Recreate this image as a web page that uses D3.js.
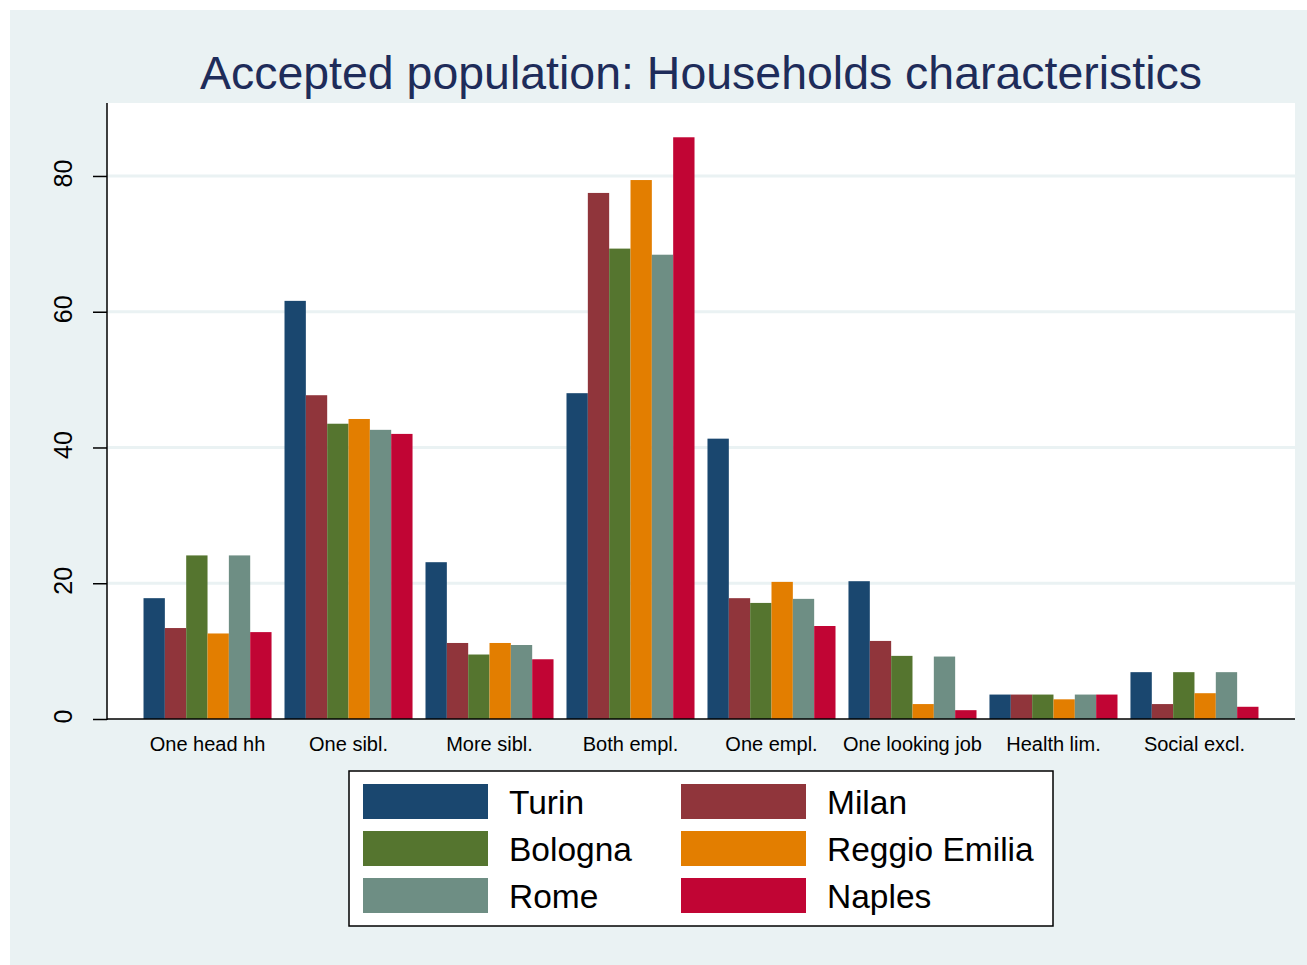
<!DOCTYPE html>
<html>
<head>
<meta charset="utf-8">
<script src="https://cdn.jsdelivr.net/npm/d3@7"></script>
<style>
  html, body { margin: 0; padding: 0; background: #ffffff; }
  svg { display: block; }
  text { font-family: "Liberation Sans", Arial, sans-serif; }
</style>
</head>
<body>
<svg id="chart" width="1307" height="965"></svg>
<script>
const categories = ["One head hh", "One sibl.", "More sibl.", "Both empl.", "One empl.", "One looking job", "Health lim.", "Social excl."];
const seriesNames = ["Turin", "Milan", "Bologna", "Reggio Emilia", "Rome", "Naples"];
const seriesColors = ["#1a476f", "#90353b", "#55752f", "#e37e00", "#6e8e84", "#c10534"];
const turin        = [17.8, 61.6, 23.1, 48.0, 41.3, 20.3, 3.6, 6.9];
const milan        = [13.4, 47.7, 11.2, 77.5, 17.8, 11.5, 3.6, 2.2];
const bologna      = [24.1, 43.5,  9.5, 69.3, 17.1,  9.3, 3.6, 6.9];
const reggioEmilia = [12.6, 44.2, 11.2, 79.4, 20.2,  2.2, 2.9, 3.8];
const rome         = [24.1, 42.6, 10.9, 68.4, 17.7,  9.2, 3.6, 6.9];
const naples       = [12.8, 42.0,  8.8, 85.7, 13.7,  1.3, 3.6, 1.8];
const yTicks = [0, 20, 40, 60, 80];
const titleText = "Accepted population: Households characteristics";

const seriesValues = [turin, milan, bologna, reggioEmilia, rome, naples];

const svg = d3.select("#chart");
const W = 1307, H = 965;
const plot = { left: 107, right: 1295, top: 103, bottom: 719 };
const bg = "#eaf2f3";

// outer background
svg.append("rect").attr("x", 10).attr("y", 10).attr("width", W - 10).attr("height", H - 10).attr("fill", bg);
// plot region
svg.append("rect").attr("x", plot.left).attr("y", plot.top)
  .attr("width", plot.right - plot.left).attr("height", plot.bottom - plot.top).attr("fill", "#ffffff");

const y = d3.scaleLinear().domain([0, 90.75]).range([plot.bottom, plot.top]);
const x0 = d3.scaleBand().domain(categories).range([plot.left, plot.right])
  .paddingInner(0.092).paddingOuter(0.259);
const x1 = d3.scaleBand().domain(seriesNames).range([0, x0.bandwidth()]).padding(0);

// gridlines
svg.append("g").selectAll("line").data(yTicks.filter(d => d > 0)).join("line")
  .attr("x1", plot.left).attr("x2", plot.right)
  .attr("y1", d => y(d)).attr("y2", d => y(d))
  .attr("stroke", bg).attr("stroke-width", 3);

// bars
const rows = [];
categories.forEach((c, i) => seriesNames.forEach((s, j) => rows.push({ c, s, v: seriesValues[j][i], color: seriesColors[j] })));
svg.append("g").selectAll("rect").data(rows).join("rect")
  .attr("x", d => x0(d.c) + x1(d.s))
  .attr("width", x1.bandwidth())
  .attr("y", d => y(d.v))
  .attr("height", d => y(0) - y(d.v))
  .attr("fill", d => d.color);

// y axis
const yAxis = svg.append("g").attr("transform", `translate(${plot.left},0)`)
  .call(d3.axisLeft(y).tickValues(yTicks).tickSize(14).tickSizeOuter(0).tickFormat(d3.format("d")));
yAxis.select(".domain").remove();
yAxis.selectAll(".tick line").attr("stroke", "#000").attr("stroke-width", 1.5);
yAxis.selectAll(".tick text")
  .attr("font-size", 25).attr("fill", "#000")
  .attr("font-family", "Liberation Sans, Arial, sans-serif")
  .attr("text-anchor", "middle").attr("dy", null)
  .attr("x", 3).attr("y", 0)
  .attr("transform", "translate(-35,0) rotate(-90)");
svg.append("line").attr("x1", plot.left).attr("x2", plot.left)
  .attr("y1", plot.top).attr("y2", plot.bottom + 1).attr("stroke", "#000").attr("stroke-width", 1.5);
svg.append("line").attr("x1", plot.left).attr("x2", plot.right)
  .attr("y1", plot.bottom).attr("y2", plot.bottom).attr("stroke", "#000").attr("stroke-width", 1.5);

// x labels
const xAxis = svg.append("g").attr("transform", `translate(0,${plot.bottom})`)
  .call(d3.axisBottom(x0).tickSize(0).tickPadding(0));
xAxis.select(".domain").remove();
xAxis.selectAll(".tick text").attr("font-size", 20).attr("fill", "#000")
  .attr("font-family", "Liberation Sans, Arial, sans-serif")
  .attr("y", 32).attr("dy", null);

// title
svg.append("text").attr("x", (plot.left + plot.right) / 2).attr("y", 89)
  .attr("text-anchor", "middle").attr("font-size", 46).attr("fill", "#1e2c5a")
  .attr("textLength", 1002).attr("lengthAdjust", "spacingAndGlyphs")
  .text(titleText);

// legend
const lg = svg.append("g");
lg.append("rect").attr("x", 349).attr("y", 771).attr("width", 704).attr("height", 155)
  .attr("fill", "#fff").attr("stroke", "#000").attr("stroke-width", 1.5);
seriesNames.forEach((s, i) => {
  const col = i % 2, row = Math.floor(i / 2);
  const sx = col === 0 ? 363 : 681;
  const sy = 784 + row * 47;
  lg.append("rect").attr("x", sx).attr("y", sy).attr("width", 125).attr("height", 35).attr("fill", seriesColors[i]);
  lg.append("text").attr("x", sx + 146).attr("y", sy + 30).attr("font-size", 33.5).attr("fill", "#000").text(s);
});
</script>
</body>
</html>
